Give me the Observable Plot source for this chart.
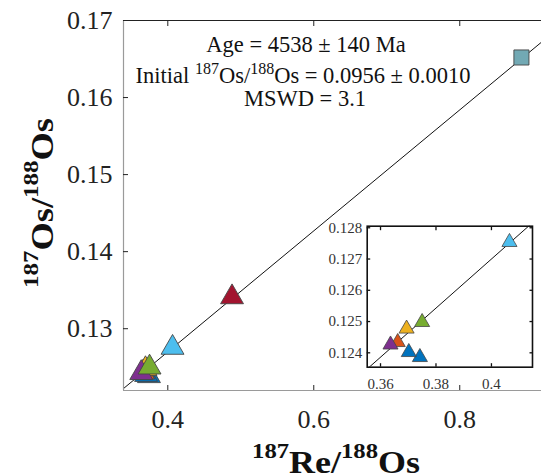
<!DOCTYPE html>
<html><head><meta charset="utf-8">
<script src="https://cdn.jsdelivr.net/npm/d3@7"></script>
<script src="https://cdn.jsdelivr.net/npm/@observablehq/plot@0.6"></script>
<style>
body{margin:0;background:#fff;}
#wrap{position:relative;width:541px;height:474px;overflow:hidden;background:#fff;}
#wrap svg{position:absolute;overflow:visible;}
</style></head><body><div id="wrap"></div>
<script>
// ---- data ----
const reRatio = [0.3742, 0.3702, 0.3662, 0.3694, 0.3636, 0.3750, 0.4065, 0.4880];
const osRatio = [0.12386, 0.12402, 0.12434, 0.12477, 0.12426, 0.12498, 0.12754, 0.13410];
const sampleColors = ["#0072BD", "#0072BD", "#D95319", "#EDB120", "#7E2F8E", "#77AC30", "#4DBEEE", "#A2142F"];
const squareRe = [0.8845];
const squareOs = [0.1652];
const isoIntercept = 0.0956;
const isoSlope = 0.0785;
const isoXRange = [0.30, 0.95];
const xTicksMain = [0.4, 0.6, 0.8];
const xTickLabelsMain = ["0.4", "0.6", "0.8"];
const yTicksMain = [0.13, 0.14, 0.15, 0.16, 0.17];
const yTickLabelsMain = ["0.13", "0.14", "0.15", "0.16", "0.17"];
const xTicksInset = [0.36, 0.38, 0.40];
const xTickLabelsInset = ["0.36", "0.38", "0.4"];
const yTicksInset = [0.124, 0.125, 0.126, 0.127, 0.128];
const yTickLabelsInset = ["0.124", "0.125", "0.126", "0.127", "0.128"];

const idx = reRatio.map((_, i) => i);
const isoLine = isoXRange.map(x => ({x, y: isoIntercept + isoSlope * x}));
const lab = (ticks, labels) => d => labels[ticks.indexOf(d)];

const wrap = document.getElementById("wrap");
const serif = "'Liberation Serif', 'Times New Roman', serif";

function serifize(svg, size) {
  d3.select(svg).attr("font-family", serif).style("font-family", serif);
  d3.select(svg).selectAll("g[aria-label*='tick label']")
    .attr("font-family", serif).attr("font-variant", null).attr("font-size", size);
  d3.select(svg).selectAll("g[aria-label*='tick label'] text")
    .attr("font-family", serif).attr("font-variant", null)
    .each(function() {
      this.style.setProperty("font-family", serif, "important");
      this.style.setProperty("font-variant", "normal", "important");
      this.style.setProperty("font-size", size + "px", "important");
    });
}

// ---- main plot ----
const xDom = [0.3393, 0.912], yDom = [0.12198, 0.17];
const main = Plot.plot({
  width: 541, height: 474,
  marginLeft: 123, marginRight: 0, marginTop: 20, marginBottom: 84,
  x: {domain: xDom}, y: {domain: yDom},
  color: {type: "identity"},
  marks: [
    Plot.line(isoLine, {x: "x", y: "y", stroke: "#111", strokeWidth: 1, clip: true}),
    Plot.ruleX([xDom[0]], {stroke: "#9a9a9a", strokeWidth: 1.2}),
    Plot.ruleY([yDom[0]], {stroke: "#9a9a9a", strokeWidth: 1.2}),
    Plot.ruleY([yDom[1]], {stroke: "#222", strokeWidth: 1}),
    Plot.axisY({ticks: yTicksMain, tickSize: -5, text: null, stroke: "#222", label: null}),
    Plot.axisY({ticks: yTicksMain, tickSize: 0, tickPadding: 11, tickFormat: lab(yTicksMain, yTickLabelsMain), label: null, fill: "#222"}),
    Plot.axisX({ticks: xTicksMain, anchor: "bottom", tickSize: -5, text: null, stroke: "#222", label: null}),
    Plot.axisX({ticks: xTicksMain, anchor: "top", tickSize: -5, text: null, stroke: "#222", label: null}),
    Plot.axisX({ticks: xTicksMain, anchor: "bottom", tickSize: 0, tickPadding: 19, tickFormat: lab(xTicksMain, xTickLabelsMain), label: null, fill: "#222"}),
    Plot.dot(idx, {x: i => reRatio[i], y: i => osRatio[i], symbol: "triangle", r: 8.5, fill: i => sampleColors[i], stroke: "#454545", strokeWidth: 0.9}),
    Plot.dot(squareRe.map((x, i) => ({x, y: squareOs[i]})), {x: "x", y: "y", symbol: "square", r: 8.5, fill: "#72a9b4", stroke: "#454545", strokeWidth: 0.9})
  ]
});
main.style.left = "0px"; main.style.top = "0px"; main.style.background = "transparent";
wrap.appendChild(main);
serifize(main, 26);

const ms = d3.select(main);
function supText(sel, parts, big, small, shift) {
  parts.forEach(p => {
    sel.append("tspan")
      .attr("font-size", p.sup ? small : big)
      .attr("dy", p.sup ? -shift : (p.after ? shift : 0))
      .text(p.t);
  });
}
// annotation
ms.append("text").attr("x", 306).attr("y", 52).attr("text-anchor", "middle")
  .attr("font-family", serif).attr("font-size", 22.5).attr("fill", "#111")
  .text("Age = 4538 ± 140 Ma");
const t2 = ms.append("text").attr("x", 303).attr("y", 83).attr("text-anchor", "middle")
  .attr("font-family", serif).attr("fill", "#111");
supText(t2, [{t: "Initial "}, {t: "187", sup: true}, {t: "Os/", after: true}, {t: "188", sup: true}, {t: "Os = 0.0956 ± 0.0010", after: true}], 22.5, 16, 9);
ms.append("text").attr("x", 305).attr("y", 106).attr("text-anchor", "middle")
  .attr("font-family", serif).attr("font-size", 22.5).attr("fill", "#111")
  .text("MSWD = 3.1");

// axis labels (stretched to the reference's length)
function axisLabel(tx, ty, rot, target) {
  const g = ms.append("g").attr("transform", `translate(${tx},${ty}) rotate(${rot})`);
  const t = g.append("text").attr("text-anchor", "middle")
    .attr("font-family", serif).attr("font-weight", "bold").attr("fill", "#111");
  return {g, t, target};
}
const xl = axisLabel(336, 473, 0, 168);
supText(xl.t, [{t: "187", sup: true}, {t: "Re/", after: true}, {t: "188", sup: true}, {t: "Os", after: true}], 32, 22, 15);
const yl = axisLabel(53, 203, -90, 170);
supText(yl.t, [{t: "187", sup: true}, {t: "Os/", after: true}, {t: "188", sup: true}, {t: "Os", after: true}], 32, 22, 15);
[xl, yl].forEach(l => {
  const w = l.t.node().getBBox().width;
  if (w > 0) l.t.attr("transform", `scale(${l.target / w},1)`);
});

// ---- inset ----
const ixDom = [0.3552, 0.4148], iyDom = [0.12354, 0.12805];
const inset = Plot.plot({
  width: 221, height: 176.7,
  marginLeft: 46.7, marginRight: 9, marginTop: 10.7, marginBottom: 25,
  x: {domain: ixDom}, y: {domain: iyDom},
  color: {type: "identity"},
  marks: [
    Plot.frame({fill: "white", stroke: null}),
    Plot.line(isoLine, {x: "x", y: "y", stroke: "#111", strokeWidth: 1, clip: true}),
    Plot.axisY({ticks: yTicksInset, anchor: "left", tickSize: -3.5, text: null, stroke: "#111", strokeWidth: 1.3, label: null}),
    Plot.axisY({ticks: yTicksInset, anchor: "right", tickSize: -3.5, text: null, stroke: "#111", strokeWidth: 1.3, label: null}),
    Plot.axisY({ticks: yTicksInset, anchor: "left", tickSize: 0, tickPadding: 5, tickFormat: lab(yTicksInset, yTickLabelsInset), label: null, fill: "#333"}),
    Plot.axisX({ticks: xTicksInset, anchor: "bottom", tickSize: -3.5, text: null, stroke: "#111", strokeWidth: 1.3, label: null}),
    Plot.axisX({ticks: xTicksInset, anchor: "top", tickSize: -3.5, text: null, stroke: "#111", strokeWidth: 1.3, label: null}),
    Plot.axisX({ticks: xTicksInset, anchor: "bottom", tickSize: 0, tickPadding: 11, tickFormat: lab(xTicksInset, xTickLabelsInset), label: null, fill: "#333"}),
    Plot.dot(idx, {x: i => reRatio[i], y: i => osRatio[i], symbol: "triangle", r: 5.6, fill: i => sampleColors[i], stroke: "#454545", strokeWidth: 0.8, clip: true}),
    Plot.frame({stroke: "#111", strokeWidth: 1.6})
  ]
});
inset.style.left = "320px"; inset.style.top = "215px"; inset.style.background = "transparent";
wrap.appendChild(inset);
serifize(inset, 15);
</script></body></html>
